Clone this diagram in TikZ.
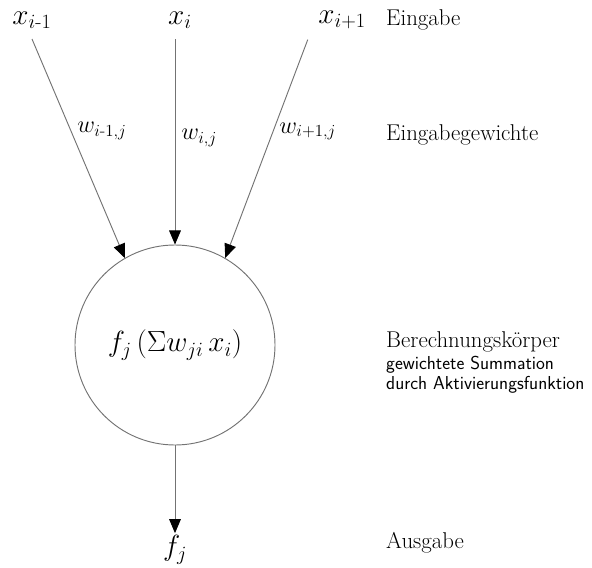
\documentclass[tikz,border=0pt]{standalone}
\usepackage{amsmath}
\usepackage{tikz}
\usetikzlibrary{arrows.meta,positioning}

\newcommand{\subdescfont}{\sffamily\fontsize{16}{16}\selectfont}

\tikzset{
  inp/.style={font=\fontsize{25}{27}\selectfont, inner sep=2pt},
  wlabel/.style={font=\fontsize{22}{24}\selectfont, right, inner sep=5pt},
  conn/.style={draw=black!55, line width=0.8pt,
    -{Triangle[length=12pt,width=10pt,color=black]}},
  desc/.style={anchor=west, inner sep=0pt, font=\fontsize{19.5}{21}\selectfont},
}

\begin{document}
\begin{tikzpicture}[x=0.03cm,y=-0.03cm]
    \useasboundingbox (0,0) rectangle (592,568);

    % --- inputs ---
    \node[inp, outer sep=7pt] (xa) at (32,20) {$x_{i\text{-}1}$};
    \node[inp, outer sep=7pt] (xb) at (180,20) {$x_i$};
    \node[inp, outer sep=7pt] (xc) at (342,20) {$x_{i+1}$};

    % --- neuron ---
    \node[circle, draw=black!55, line width=0.8pt, minimum size=6cm,
          font=\fontsize{23}{25}\selectfont] (neuron) at (175,345)
          {$f_j\left(\Sigma w_{ji}\, x_i\right)$};

    % --- output ---
    \node[inp] (out) at (175,550) {$f_j$};

    % weighted connections
    \draw[conn] (xa.south) -- node[wlabel, pos=0.42] {$w_{i\text{-}1,j}$} (neuron.120);
    \draw[conn] (neuron.north |- xb.south) -- node[wlabel, pos=0.48] {$w_{i,j}$} (neuron.north);
    \draw[conn] (xc.south west) -- node[wlabel, pos=0.42] {$w_{i+1,j}$} (neuron.60);
    \draw[conn] (neuron.south) -- (out.north);

    % --- legend on the right ---
    \node[desc] (lblIn) at (386,20) {Eingabe};
    \node[desc] (lblW) at (386,135) {Eingabegewichte};
    \node[desc, align=left, anchor=north west] (lblBody) at (386,331)
        {Berechnungskörper\\[-2pt]
         {\subdescfont gewichtete Summation}\\[-4pt]
         {\subdescfont durch Aktivierungsfunktion}};
    \node[desc] (lblOut) at (386,543) {Ausgabe};
\end{tikzpicture}
\end{document}
